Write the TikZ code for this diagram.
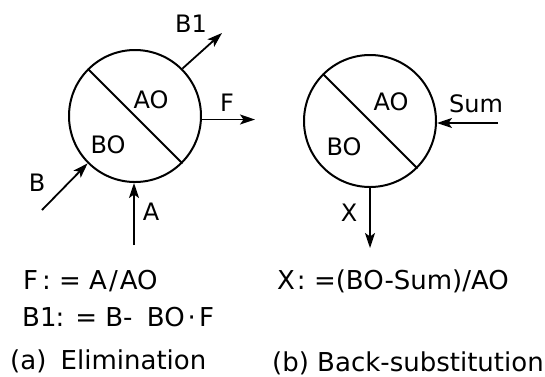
\documentclass[tikz,border=0pt]{standalone}
\usepackage{fontspec}
\setmainfont{DejaVu Sans}
\usetikzlibrary{arrows.meta}
\tikzset{
  cell/.style={circle, draw, line width=2pt, minimum size=132pt, inner sep=0pt},
  div/.style={line width=2pt},
  flow/.style={line width=1.8pt, -{Stealth[length=15pt,width=10pt,inset=3.5pt]}},
  lbl/.style={font=\fontsize{24}{28}\selectfont, inner sep=0pt},
  eq/.style={font=\fontsize{26}{30}\selectfont, inner sep=0pt, anchor=base west},
}
\begin{document}
\begin{tikzpicture}[x=1pt,y=-1pt]
\useasboundingbox (0,0) rectangle (545,376);
% (a) elimination cell
\node[cell] (c1) at (135,116) {};
\draw[div] (c1.135) -- (c1.-45);
\node[lbl] (ao1) at (151,100) {AO};
\node[lbl] (bo1) at (108,145) {BO};
\coordinate (b1end) at (222,33);
\coordinate (fend) at (255,120);
\coordinate (bstart) at (42,210);
\coordinate (astart) at (134,245);
\draw[flow] (c1.45) -- (b1end);
\draw[flow] (c1.-3) -- (c1.-3 -| fend);
\draw[flow] (bstart) -- (c1.-135);
\draw[flow] (astart) -- (astart |- c1.south);
\node[lbl] (lb1) at (191,24) {B1};
\node[lbl] (lf) at (227,103) {F};
\node[lbl] (lb) at (37,183) {B};
\node[lbl] (la) at (151,212) {A};
% (b) back-substitution cell
\node[cell] (c2) at (370,121) {};
\draw[div] (c2.135) -- (c2.-45);
\node[lbl] (ao2) at (391,102) {AO};
\node[lbl] (bo2) at (344,147) {BO};
\coordinate (sumstart) at (498,123);
\coordinate (xend) at (370,248);
\draw[flow] (sumstart) -- (sumstart -| c2.east);
\draw[flow] (c2.-90) -- (xend);
\node[lbl] (lsum) at (476,104) {Sum};
\node[lbl] (lx) at (349,213) {X};
% equations and captions
\node[eq] (eq1) at (23,289) {F\hspace{4pt}: = A\hspace{2pt}/\hspace{2pt}AO};
\node[eq] (eq2) at (22,326) {B1\kern-1pt: = B- \hspace{6pt}BO\hspace{3pt}·\hspace{3pt}F};
\node[eq] (capa) at (10,369) {(a)\hspace{6pt} Elimination};
\node[eq] (eq3) at (277,289) {X\kern2pt: =(BO-Sum)/AO};
\node[eq] (capb) at (272,371) {(b) Back-substitution};
\end{tikzpicture}
\end{document}
